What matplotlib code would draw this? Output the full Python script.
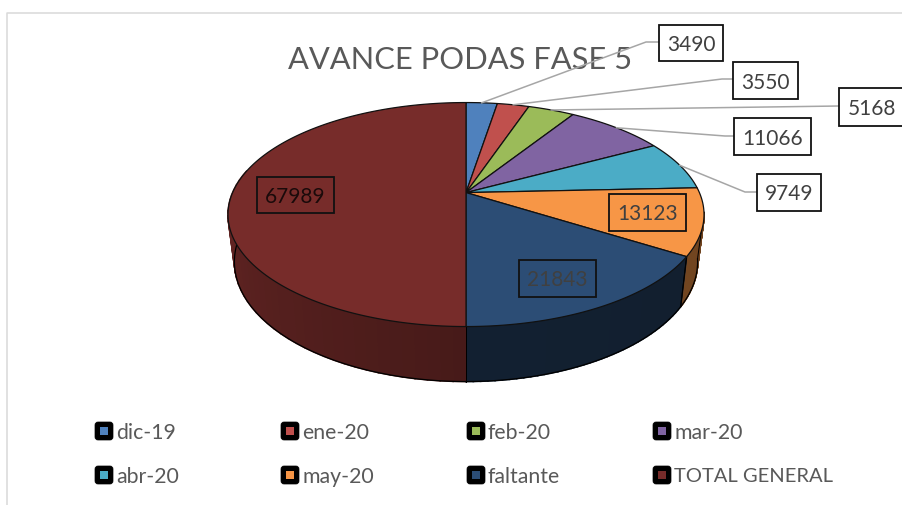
import numpy as np
import matplotlib
matplotlib.use("Agg")
import matplotlib.pyplot as plt
from matplotlib.patches import Polygon, FancyBboxPatch, Rectangle

plt.rcParams['font.family'] = ['Lato', 'DejaVu Sans']

categories = ['dic-19', 'ene-20', 'feb-20', 'mar-20', 'abr-20', 'may-20', 'faltante', 'TOTAL GENERAL']
values = [3490, 3550, 5168, 11066, 9749, 13123, 21843, 67989]
colors = ['#4F81BD', '#C0504D', '#9BBB59', '#8064A2', '#4BACC6', '#F79646', '#2C4D75', '#772C2A']
title = 'AVANCE PODAS FASE 5'

CX, CY, A, B, K = 466.0, 193.6, 233.4, 107.7, 0.196
S_X, S_Y, H = 0.973, 1.07, 45.6

def top(theta):
    u, v = np.sin(theta), np.cos(theta)
    w = 1 + K * v
    return CX + A * u / w, CY - B * v / w

def bottom(theta):
    x, y = top(theta)
    return CX + S_X * (x - CX), CY + S_Y * (y - CY) + H

def shade(c, f):
    return tuple(f * ch for ch in matplotlib.colors.to_rgb(c))

fig = plt.figure(figsize=(9.02, 5.06), dpi=100)
ax = fig.add_axes([0, 0, 1, 1])
ax.set_xlim(0, 902)
ax.set_ylim(506, 0)
ax.axis('off')

# chart frame
ax.plot([6.5, 6.5, 902], [506, 13.5, 13.5], color='#D9D9D9', lw=1.1, zorder=1)

total = sum(values)
edges = np.concatenate([[0], np.cumsum(values)]) / total * 2 * np.pi
ax.text(460.5, 60, title, ha='center', va='center', fontsize=22.2, color='#595959', zorder=2)

wall_shades = {5: (0.45, 0.46), 6: (0.40, 0.42), 7: (0.60, 0.86)}
WALL_END = np.deg2rad(282)
WALL_START = np.deg2rad(100)
for i, (f0, f1) in wall_shades.items():
    a0 = max(edges[i], WALL_START)
    a1 = min(edges[i + 1], WALL_END)
    ts = np.linspace(a0, a1, 40)
    for j in range(len(ts) - 1):
        t0, t1 = ts[j], ts[j + 1]
        f = f0 + (f1 - f0) * j / (len(ts) - 2)
        ax.add_patch(Polygon([top(t0), top(t1), bottom(t1), bottom(t0)], closed=True,
                             facecolor=shade(colors[i], f), edgecolor=shade(colors[i], f),
                             lw=1.2, zorder=3))
    tt = np.linspace(a0, a1, 120)
    bx, by = bottom(tt)
    ax.plot(bx, by, color='black', lw=0.9, zorder=4)
    for t in (a0, a1):
        ax.plot([top(t)[0], bottom(t)[0]], [top(t)[1], bottom(t)[1]], color='black', lw=0.7, zorder=4)

for i, c in enumerate(colors):
    t = np.linspace(edges[i], edges[i + 1], 200)
    x, y = top(t)
    pts = np.column_stack([np.r_[CX, x], np.r_[CY, y]])
    ax.add_patch(Polygon(pts, closed=True, facecolor=c, edgecolor='#111111', lw=0.9, zorder=5))

# data labels: box left, top, right, bottom
boxes = [(659, 26, 723, 62), (733, 63, 798, 100), (839, 89, 905, 127), (734, 119, 811, 156),
         (757, 175, 821, 212), (609, 195, 686, 232), (519, 261, 596, 298), (257, 178, 334, 214)]
leaders = {0: [(646, 43), (659, 43)], 1: [(722, 80), (733, 80)], 2: [(839, 107)],
           3: [(725, 137), (734, 137)], 4: [(745, 193), (757, 193)]}
for i, pts in leaders.items():
    mid = (edges[i] + edges[i + 1]) / 2
    x0, y0 = top(mid)
    xs = [x0] + [p[0] for p in pts]
    ys = [y0] + [p[1] for p in pts]
    ax.plot(xs, ys, color='#A6A6A6', lw=1.1, zorder=6)

for i, (l, t, r, b) in enumerate(boxes):
    fc = 'white' if i < 5 else colors[i]
    ax.add_patch(Rectangle((l, t), r - l, b - t, facecolor=fc, edgecolor='#111111', lw=1.3, zorder=7))
    ax.text((min(r, 902) + l) / 2 + (1 if i == 2 else 0), (t + b) / 2 + 1, str(values[i]), ha='center', va='center',
            fontsize=15.0, color='#404040' if i != 7 else '#1a0a0a', zorder=8)

# legend
leg_x = [95, 281, 467, 653]
leg_y = [432, 476]
for i, name in enumerate(categories):
    x = leg_x[i % 4]
    y = leg_y[i // 4]
    ax.add_patch(FancyBboxPatch((x + 1.5, y - 7.5), 15, 15, boxstyle='round,pad=1.5,rounding_size=3',
                                facecolor='black', edgecolor='black', lw=0.5, zorder=5))
    ax.add_patch(Rectangle((x + 5, y - 4), 8, 8, facecolor=colors[i], edgecolor='none', zorder=6))
    ax.text(x + 21, y + 1, name, ha='left', va='center', fontsize=14.5 if i == 7 else 15.3,
            color='#595959', zorder=6)

fig.savefig('out.png', dpi=100)
